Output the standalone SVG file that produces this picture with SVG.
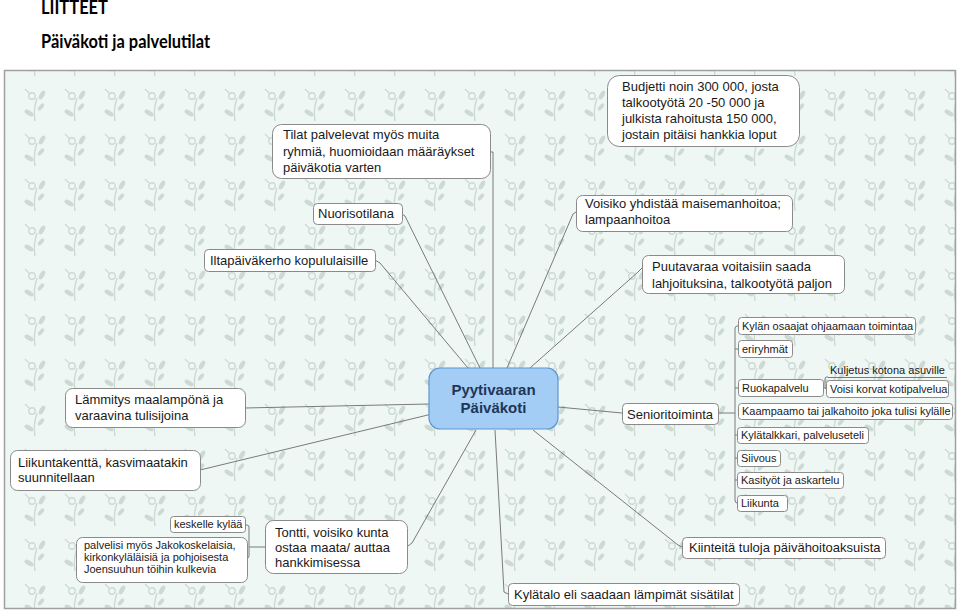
<svg xmlns="http://www.w3.org/2000/svg" width="960" height="614" viewBox="0 0 960 614">
<style>
.h{font-family:Lato,"Liberation Sans",sans-serif;font-weight:bold;fill:#000}
.t{font-family:"Liberation Sans",Arial,sans-serif;font-size:13px;fill:#1a1a1a}
.s{font-family:"Liberation Sans",Arial,sans-serif;font-size:11px;fill:#1a1a1a}
.box{fill:#fff;stroke:#8a8a8a;stroke-width:1}
.c{fill:none;stroke:#7a7a7a;stroke-width:1}
</style>
<defs>
<pattern id="bg" x="15" y="83" width="40" height="45" patternUnits="userSpaceOnUse">
<g fill="#ccdad3" stroke="#ccdad3">
<path d="M20 38 Q18 27 22 15" fill="none" stroke-width="1.4"/>
<circle cx="17" cy="13" r="3.2" fill="none" stroke-width="1.4"/>
<path d="M14 10 L10 6" fill="none" stroke-width="1.3"/>
<ellipse cx="27" cy="12" rx="2.3" ry="5" transform="rotate(30 27 12)" stroke="none"/>
<ellipse cx="26" cy="24" rx="2" ry="4.3" transform="rotate(40 26 24)" stroke="none"/>
<ellipse cx="14" cy="30" rx="2.4" ry="5" transform="rotate(-60 14 30)" stroke="none"/>
</g>
</pattern>
</defs>
<rect width="960" height="614" fill="#fff"/>
<text class="h" x="41" y="14" font-size="19" textLength="67" lengthAdjust="spacingAndGlyphs">LIITTEET</text>
<text class="h" x="41" y="48" font-size="18" textLength="169" lengthAdjust="spacingAndGlyphs">Päiväkoti ja palvelutilat</text>
<rect x="4.5" y="70.5" width="951" height="538" fill="#eff7f4"/>
<rect x="4.5" y="70.5" width="951" height="538" fill="url(#bg)" stroke="#a0a0a0" stroke-width="1.5"/>

<g id="connectors">
<path class="c" d="M490 152 H493 V368"/>
<path class="c" d="M402 214 L405 216 L480 368"/>
<path class="c" d="M375 260 L380 263 L468 368"/>
<path class="c" d="M576 212 L573 214 L507 368"/>
<path class="c" d="M642 268 L638 272 L530 368"/>
<path class="c" d="M245 408 L429 404"/>
<path class="c" d="M200 470 L432 414"/>
<path class="c" d="M408 546 L412 543 L476 430"/>
<path class="c" d="M495 430 L504 592 L508 594"/>
<path class="c" d="M533 430 L678 545 L682 547"/>
<path class="c" d="M558 407 L622 413"/>
<path class="c" d="M718 413 H735"/>
<path class="c" d="M738 326 H737 Q735 326 735 329 V500 Q735 503 737 503 H738"/>
<path class="c" d="M735 349 H738 M735 388 H738 M735 435 H738 M735 458 H738 M735 480 H738"/>
<path class="c" d="M823 388 H826"/>
<path class="c" d="M828 377 H826 Q825 377 825 380 V387 Q825 389 827 389"/>
<path class="c" d="M265 547 H249"/>
<path class="c" d="M245 525 H247 Q249 525 249 527 V556 Q249 558 247 558"/>
</g>

<g id="center">
<rect x="429" y="368" width="129" height="61" rx="11" fill="#a3cdf4" stroke="#5d95d2" stroke-width="1.2"/>
<text x="493.5" y="395" text-anchor="middle" font-family="Liberation Sans,Arial,sans-serif" font-weight="bold" font-size="15" fill="#1f3658">Pyytivaaran</text>
<text x="493.5" y="413" text-anchor="middle" font-family="Liberation Sans,Arial,sans-serif" font-weight="bold" font-size="15" fill="#1f3658">Päiväkoti</text>
</g>

<g id="budjetti">
<rect class="box" x="607.5" y="75.5" width="192" height="71" rx="12"/>
<text class="t" x="622" y="91">Budjetti noin 300 000, josta</text>
<text class="t" x="622" y="107">talkootyötä 20 -50 000 ja</text>
<text class="t" x="622" y="123">julkista rahoitusta 150 000,</text>
<text class="t" x="622" y="139">jostain pitäisi hankkia loput</text>
</g>

<g id="tilat">
<rect class="box" x="272.5" y="124.5" width="218" height="54" rx="9"/>
<text class="t" x="283" y="139">Tilat palvelevat myös muita</text>
<text class="t" x="283" y="156">ryhmiä, huomioidaan määräykset</text>
<text class="t" x="283" y="172">päiväkotia varten</text>
</g>

<g id="nuorisotilana">
<rect class="box" x="313.5" y="203.5" width="89" height="21" rx="4"/>
<text class="t" x="318" y="218">Nuorisotilana</text>
</g>

<g id="iltapaivakerho">
<rect class="box" x="204.5" y="249.5" width="171" height="22" rx="4"/>
<text class="t" x="210" y="265">Iltapäiväkerho kopululaisille</text>
</g>

<g id="voisiko">
<rect class="box" x="576.5" y="195.5" width="216" height="36" rx="6"/>
<text class="t" x="585" y="208">Voisiko yhdistää maisemanhoitoa;</text>
<text class="t" x="585" y="224">lampaanhoitoa</text>
</g>

<g id="puutavaraa">
<rect class="box" x="642.5" y="255.5" width="202" height="38" rx="6"/>
<text class="t" x="652" y="271">Puutavaraa voitaisiin saada</text>
<text class="t" x="652" y="288">lahjoituksina, talkootyötä paljon</text>
</g>

<g id="lammitys">
<rect class="box" x="65.5" y="388.5" width="180" height="39" rx="7"/>
<text class="t" x="75" y="404">Lämmitys maalampönä ja</text>
<text class="t" x="75" y="420">varaavina tulisijoina</text>
</g>

<g id="liikuntakentta">
<rect class="box" x="10.5" y="450.5" width="190" height="40" rx="7"/>
<text class="t" x="18" y="467">Liikuntakenttä, kasvimaatakin</text>
<text class="t" x="18" y="482">suunnitellaan</text>
</g>

<g id="keskelle">
<rect class="box" x="170.5" y="516.5" width="75" height="16" rx="3"/>
<text class="s" x="174" y="528">keskelle kylää</text>
</g>

<g id="palvelisi">
<rect class="box" x="76.5" y="537.5" width="171" height="45" rx="6"/>
<text class="s" x="84" y="549">palvelisi myös Jakokoskelaisia,</text>
<text class="s" x="84" y="561">kirkonkyläläisiä ja pohjoisesta</text>
<text class="s" x="84" y="573">Joensuuhun töihin kulkevia</text>
</g>

<g id="tontti">
<rect class="box" x="265.5" y="520.5" width="142" height="53" rx="8"/>
<text class="t" x="275" y="537">Tontti, voisiko kunta</text>
<text class="t" x="275" y="552">ostaa maata/ auttaa</text>
<text class="t" x="275" y="567">hankkimisessa</text>
</g>

<g id="kiinteita">
<rect class="box" x="682.5" y="537.5" width="203" height="21" rx="4"/>
<text class="t" x="689" y="552">Kiinteitä tuloja päivähoitoaksuista</text>
</g>

<g id="kylatalo">
<rect class="box" x="508.5" y="583.5" width="231" height="22" rx="4"/>
<text class="t" x="514" y="599">Kylätalo eli saadaan lämpimät sisätilat</text>
</g>

<g id="senioritoiminta">
<rect class="box" x="622.5" y="403.5" width="96" height="21" rx="4"/>
<text class="t" x="627" y="419">Senioritoiminta</text>
</g>

<g id="kylan-osaajat">
<rect class="box" x="738.5" y="317.5" width="177" height="17" rx="3"/>
<text class="s" x="742" y="330">Kylän osaajat ohjaamaan toimintaa</text>
</g>
<g id="eriryhmat">
<rect class="box" x="738.5" y="340.5" width="54" height="17" rx="3"/>
<text class="s" x="742" y="353">eriryhmät</text>
</g>
<g id="ruokapalvelu">
<rect class="box" x="738.5" y="379.5" width="85" height="17" rx="3"/>
<text class="s" x="742" y="392">Ruokapalvelu</text>
</g>
<g id="kuljetus">
<path class="c" d="M828 377.5 H947"/>
<text class="s" x="830" y="374">Kuljetus kotona asuville</text>
</g>
<g id="voisi-korvat">
<rect class="box" x="826.5" y="380.5" width="122" height="17" rx="3"/>
<text class="s" x="830" y="393">Voisi korvat kotipalvelua</text>
</g>
<g id="kaampaamo">
<rect class="box" x="738.5" y="403.5" width="214" height="16" rx="3"/>
<text class="s" x="742" y="415">Kaampaamo tai jalkahoito joka tulisi kylälle</text>
</g>
<g id="kylatalkkari">
<rect class="box" x="737.5" y="427.5" width="131" height="16" rx="3"/>
<text class="s" x="741" y="439">Kylätalkkari, palveluseteli</text>
</g>
<g id="siivous">
<rect class="box" x="737.5" y="450.5" width="43" height="16" rx="3"/>
<text class="s" x="741" y="462">Siivous</text>
</g>
<g id="kasityot">
<rect class="box" x="737.5" y="472.5" width="106" height="16" rx="3"/>
<text class="s" x="741" y="484">Kasityöt ja askartelu</text>
</g>
<g id="liikunta">
<rect class="box" x="737.5" y="495.5" width="50" height="16" rx="3"/>
<text class="s" x="741" y="507">Liikunta</text>
</g>
</svg>
